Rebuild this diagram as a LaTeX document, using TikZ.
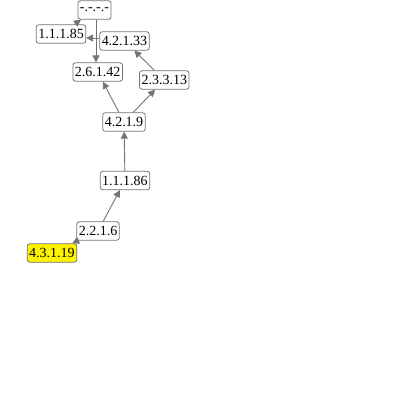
\documentclass[tikz,border=0pt]{standalone}
\usepackage{fontspec}
\setmainfont{Liberation Serif}
\usetikzlibrary{arrows.meta}
\tikzset{
  nd/.style={draw=black!55, rounded corners=2.5pt, fill=white, font=\fontsize{14}{15}\selectfont,
    inner xsep=2pt, inner ysep=0pt, minimum height=18.5pt, line width=0.8pt},
  hl/.style={nd, fill=yellow},
  ar/.style={draw=black!55, line width=0.9pt, -{Triangle[length=7pt,width=7pt]}}
}
\begin{document}
\begin{tikzpicture}[x=1pt,y=-1pt]
\useasboundingbox (0,0) rectangle (400,400);
\node[nd] (top) at (94.5,10) {-.-.-.-};
\node[nd] (a85) at (61,34) {1.1.1.85};
\node[nd] (a33) at (124.5,41) {4.2.1.33};
\node[nd] (a42) at (97.7,72) {2.6.1.42};
\node[nd] (a13) at (164.3,80) {2.3.3.13};
\node[nd] (a9) at (124,122) {4.2.1.9};
\node[nd] (a86) at (125,180.5) {1.1.1.86};
\node[nd] (a6) at (98,231) {2.2.1.6};
\node[hl] (a19) at (52,253) {4.3.1.19};
\draw[ar] (a6) -- (a19);
\draw[ar] (a6) -- (a86);
\draw[ar] (a86) -- (a9);
\draw[ar] (a9) -- (a42);
\draw[ar] (a9) -- (a13);
\draw[ar] (a13) -- (a33);
\draw[ar] (a33.west |- 0,38) -- (a85.east |- 0,38);
\draw[ar] (top.south -| 96,0) -- (a42.north -| 96,0);
\draw[ar] (a85) -- (top);
\end{tikzpicture}
\end{document}
